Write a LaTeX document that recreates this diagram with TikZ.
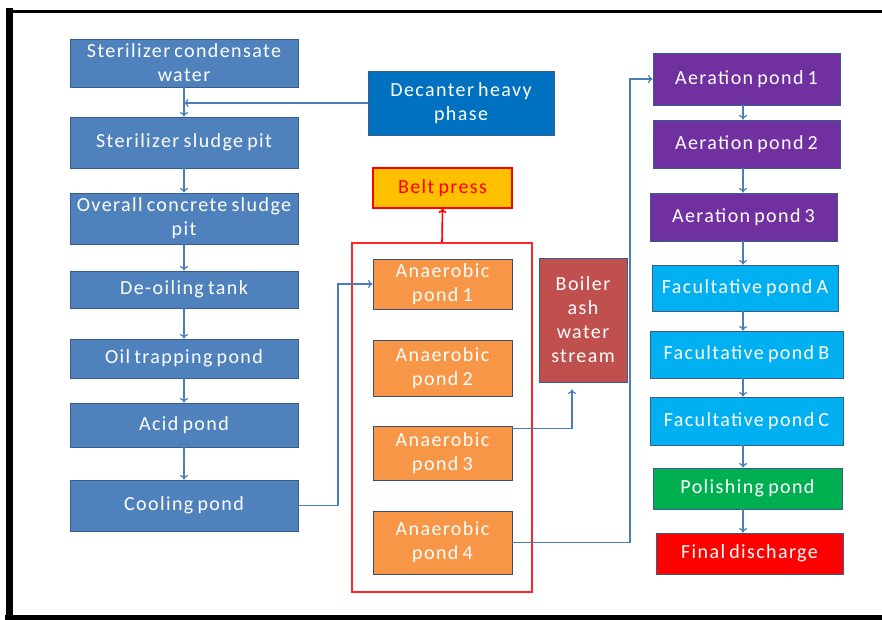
\documentclass[tikz,border=0pt]{standalone}
\usepackage{fontspec}
\setmainfont{Carlito}[LetterSpace=7, WordSpace=0.7]
\usetikzlibrary{arrows.meta}

\definecolor{steelfill}{HTML}{4F81BD}
\definecolor{steeledge}{HTML}{385D8A}
\definecolor{decfill}{HTML}{0070C0}
\definecolor{orangefill}{HTML}{F79646}
\definecolor{brickfill}{HTML}{C0504D}
\definecolor{purplefill}{HTML}{7030A0}
\definecolor{cyanfill}{HTML}{00B0F0}
\definecolor{greenfill}{HTML}{00B050}
\definecolor{goldfill}{HTML}{FFC000}
\definecolor{linkblue}{HTML}{4A7EBB}
\definecolor{darkedge}{HTML}{3B4E6E}

\tikzset{
  base/.style={rectangle, inner sep=1pt, align=center, text=white,
    font=\fontsize{20}{24}\selectfont, line width=0.9pt, draw=steeledge},
  steelbox/.style={base, fill=steelfill, minimum width=228pt},
  decbox/.style={base, fill=decfill},
  anbox/.style={base, fill=orangefill, draw=darkedge, minimum width=139pt},
  boilbox/.style={base, fill=brickfill},
  aerbox/.style={base, fill=purplefill, minimum width=187pt},
  facbox/.style={base, fill=cyanfill, minimum width=193pt},
  polbox/.style={base, fill=greenfill, minimum width=189pt},
  finbox/.style={base, fill=red, minimum width=187pt},
  beltbox/.style={base, fill=goldfill, draw=red, line width=1.2pt, text=red},
  groupframe/.style={rectangle, draw=red!85!white, line width=1.6pt},
  arr/.style={draw=linkblue, line width=1.2pt, -{To[length=4.5pt,width=8pt]}},
  redarr/.style={draw=red, line width=1.6pt, -{To[length=4.5pt,width=8pt]}}
}

\begin{document}
\begin{tikzpicture}[x=1pt, y=-1pt]
\useasboundingbox (0,0) rectangle (882,619);

% outer frame
\draw[line width=3pt] (10,11) -- (900,11);
\draw[line width=7pt] (9,8) -- (9,622);
\draw[line width=5pt] (5,617) -- (900,617);

% left column
\node[steelbox, minimum height=48pt] (s1) at (184,63) {Sterilizer condensate\\water};
\node[steelbox, minimum height=51pt] (s2) at (184,142.5) {Sterilizer sludge pit};
\node[steelbox, minimum height=51pt] (s3) at (184,218.5) {Overall concrete sludge\\pit};
\node[steelbox, minimum height=37pt] (s4) at (184,289.5) {De-oiling tank};
\node[steelbox, minimum height=39pt] (s5) at (184,358.5) {Oil trapping pond};
\node[steelbox, minimum height=44pt] (s6) at (184,425) {Acid pond};
\node[steelbox, minimum height=51pt] (s7) at (184,505.5) {Cooling pond};

\node[decbox, minimum width=186pt, minimum height=64pt] (dec) at (461,103) {Decanter heavy\\phase};

% anaerobic group
\node[groupframe, minimum width=180pt, minimum height=349pt] (grp) at (442,417.5) {};
\node[beltbox, minimum width=139pt, minimum height=40pt] (belt) at (442.5,188) {Belt press};
\node[anbox, minimum height=50pt] (an1) at (442.5,284) {Anaerobic\\pond 1};
\node[anbox, minimum height=56pt] (an2) at (442.5,368) {Anaerobic\\pond 2};
\node[anbox, minimum height=54pt] (an3) at (442.5,453) {Anaerobic\\pond 3};
\node[anbox, minimum height=63pt] (an4) at (442.5,542.5) {Anaerobic\\pond 4};

\node[boilbox, minimum width=88pt, minimum height=124pt] (boil) at (583,320) {Boiler\\ash\\water\\stream};

% right column
\node[aerbox, minimum height=52pt] (a1) at (746.5,79) {Aeration pond 1};
\node[aerbox, minimum height=48pt] (a2) at (746.5,144) {Aeration pond 2};
\node[aerbox, minimum height=48pt] (a3) at (743.5,217) {Aeration pond 3};
\node[facbox, minimum width=186pt, minimum height=46pt] (fa) at (745,288) {Facultative pond A};
\node[facbox, minimum height=47pt] (fb) at (746.5,354.5) {Facultative pond B};
\node[facbox, minimum height=48pt] (fc) at (746.5,421) {Facultative pond C};
\node[polbox, minimum height=41pt] (pol) at (747.5,488.5) {Polishing pond};
\node[finbox, minimum height=41pt] (fin) at (749.5,553.5) {Final discharge};

\coordinate (jc) at (338,0);
\coordinate (jr) at (630,0);
\coordinate (colx) at (743,0);

% left column chain
\draw[arr] (s1.south) -- (s2.north);
\draw[arr] (s2.south) -- (s3.north);
\draw[arr] (s3.south) -- (s4.north);
\draw[arr] (s4.south) -- (s5.north);
\draw[arr] (s5.south) -- (s6.north);
\draw[arr] (s6.south) -- (s7.north);
\draw[arr] (dec.west) -- (dec.west -| s1.south);

% into and out of the anaerobic ponds
\draw[arr] (s7.east) -- (s7.east -| jc) |- (an1.west);
\draw[redarr] (grp.north) -- (belt.south);
\draw[arr, shorten >=7pt] ([yshift=-3pt]an3.north east) -| ([xshift=-11pt]boil.south);
\draw[arr] (an4.east) -- (an4.east -| jr) |- (a1.west);

% right column chain
\draw[arr] (a1.south -| colx) -- (a2.north -| colx);
\draw[arr] (a2.south -| colx) -- (a3.north -| colx);
\draw[arr] (a3.south -| colx) -- (fa.north -| colx);
\draw[arr] (fa.south -| colx) -- (fb.north -| colx);
\draw[arr] (fb.south -| colx) -- (fc.north -| colx);
\draw[arr] (fc.south -| colx) -- (pol.north -| colx);
\draw[arr] (pol.south -| colx) -- (fin.north -| colx);
\end{tikzpicture}
\end{document}
